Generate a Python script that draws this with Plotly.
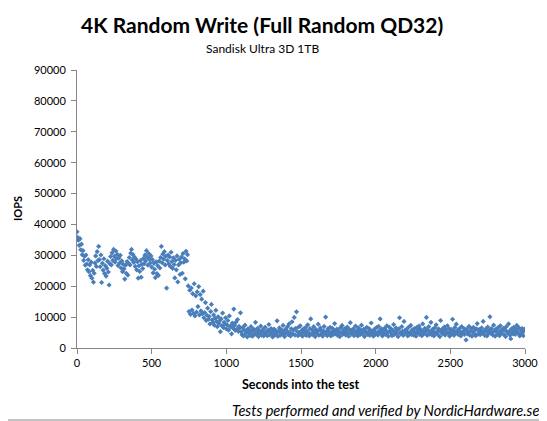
import plotly.graph_objects as go

# sample times in seconds (one reading every 5 s)
seconds = list(range(0, 3000, 5))

# IOPS readings, split by phase of the test
iops_ramp = [
    37600, 35800, 34900, 33200, 35400, 31800,
    33600, 30200, 31500, 28400, 29700, 26800,
    30100, 27200, 25300, 28600, 24700, 26900,
    23400, 27800, 22600, 25100, 21300, 24200,
    27500, 29800, 26400, 31200, 28300, 32900,
]
iops_plateau = [
    28600, 26300, 30100, 21200, 27400, 25200, 28900, 24100, 26600, 23300,
    25800, 28100, 24600, 20400, 27300, 29600, 26900, 30800, 28400, 31900,
    29700, 27800, 31400, 28900, 30300, 26700, 29100, 27500, 30000, 25900,
    28200, 24700, 27100, 25600, 22300, 26800, 24200, 28000, 23600, 27400,
    29300, 26900, 30700, 31900, 28500, 30200, 27700, 29400, 26400, 28800,
    25300, 27900, 22600, 26600, 24800, 28300, 22900, 27100, 25700, 29000,
    27300, 30100, 28200, 31500, 29400, 26800, 30600, 28700, 27500, 29800,
    26200, 28600, 24300, 27400, 25500, 22800, 27900, 24100, 26700, 23500,
    28100, 25900, 29300, 32900, 27600, 30400, 28800, 31200, 26900, 29700,
    19400, 28300, 30100, 27200, 29500, 26400, 31000, 28000, 25800, 29200,
    27000, 22700, 28400, 25300, 29800, 21400, 26900, 28700, 23800, 27600,
    29500, 24200, 30600, 27800, 28900, 22400, 31300, 28200, 30200,
]
iops_drop = [
    20100, 11800, 18700, 10900, 19400, 12300, 17600, 11200, 20800, 10400,
    16900, 11600, 18200, 13400, 19900, 10700, 17300, 12000, 15800, 11100,
    18400, 9800, 11500, 14700, 8900, 10600, 12900, 9300, 10200, 7800,
    11800, 14100, 9100, 8200, 10700, 7400, 9600, 12200, 8600, 6900,
    10100, 7900, 8800, 5300, 9400, 7200, 11300, 6600, 8300, 7700,
    9800, 6200, 7500, 8900, 5800, 10400, 6900, 7100, 4600, 8100,
    6400, 12600, 7300, 5700, 8400, 6100, 9200, 5400, 7000, 6500,
    11400,
]
iops_steady = [
    5200, 4300, 6600, 3900, 5800, 7400, 4700, 5500, 3600, 6200,
    4900, 5700, 4100, 6900, 5300, 3800, 6100, 4500, 5900, 8300,
    4400, 5100, 6400, 3700, 5600, 4800, 7100, 4200, 5400, 6000,
    3900, 5000, 6700, 4600, 5300, 4000, 5800, 7600, 4300, 5100,
    6300, 4700, 3600, 5500, 6100, 4200, 5700, 4900, 8800, 3800,
    5400, 6500, 4100, 5000, 5900, 4400, 7300, 5200, 3700, 6000,
    4800, 5600, 6900, 4300, 7800, 5100, 3900, 6200, 8500, 4600,
    5800, 9900, 4200, 6400, 11700, 5300, 4000, 6800, 5000, 7200,
    4500, 5700, 3800, 6100, 5200, 4700, 6600, 4100, 5500, 7500,
    5000, 3900, 6300, 9400, 4600, 5800, 4300, 6900, 5100, 3700,
    6000, 4800, 5400, 7700, 4200, 5900, 6500, 4400, 5300, 3800,
    5600, 7000, 4700, 10000, 5200, 4000, 6200, 5500, 4500, 6700,
    3900, 5100, 6400, 4300, 5800, 7900, 4600, 5300, 6100, 4100,
    5700, 4900, 3700, 6600, 5000, 7300, 4400, 5900, 5200, 6300,
    4200, 5500, 6800, 4700, 3800, 6000, 8200, 5100, 4500, 5700,
    6200, 4000, 5300, 7100, 4800, 5600, 3900, 6500, 5000, 4300,
    5800, 7400, 4600, 5200, 6100, 3700, 5500, 4900, 6700, 4400,
    5100, 6300, 4100, 5700, 8100, 4700, 5400, 3800, 6000, 5200,
    4500, 6600, 5000, 4200, 7000, 5600, 9400, 4800, 6200, 3900,
    5300, 4600, 6400, 5900, 4300, 7200, 5100, 3800, 6800, 5500,
    4900, 6100, 4000, 5700, 7600, 4400, 5200, 6500, 4700, 5800,
    3700, 6200, 9800, 5000, 4500, 6900, 5400, 4100, 8600, 5600,
    4800, 6000, 5300, 3900, 6700, 4600, 5100, 7300, 4300, 5900,
    5500, 4200, 6300, 5000, 3800, 6600, 4900, 5700, 7100, 4400,
    6100, 5200, 4000, 7800, 5600, 4700, 6400, 5300, 9900, 4100,
    5800, 6900, 4500, 5100, 8300, 4300, 6000, 5400, 3900, 6500,
    4800, 7500, 5200, 4400, 6200, 5700, 3700, 8900, 5000, 6100,
    4600, 5500, 6800, 4200, 5900, 5100, 7200, 4700, 6300, 3800,
    5300, 6000, 4500, 9300, 5600, 4100, 6600, 5000, 7700, 4900,
    5800, 4300, 6200, 5400, 3900, 6900, 4800, 5200, 6400, 4400,
    5700, 2600, 6100, 4600, 5000, 7000, 4200, 5500, 6300, 3800,
    5100, 6700, 4700, 5900, 4000, 6200, 7900, 4500, 5300, 6000,
    4300, 5600, 6500, 4900, 8600, 5200, 4100, 6000, 5400, 3900,
    6800, 4600, 5700, 10100, 4800, 6300, 5000, 4200, 7400, 5500,
    3800, 6100, 5300, 4500, 6600, 5100, 4000, 7200, 5800, 4700,
    5600, 6400, 4300, 5900, 3700, 6900, 5200, 4800, 7800, 5400,
    4100, 3000, 6200, 5000, 4600, 6700, 5500, 4400, 6000, 7300,
    5100, 4700, 6500, 3900, 5800, 4500, 6300, 5200, 4000, 6100,
]
iops = iops_ramp + iops_plateau + iops_drop + iops_steady

x_ticks = [0, 500, 1000, 1500, 2000, 2500, 3000]
y_ticks = [0, 10000, 20000, 30000, 40000, 50000, 60000, 70000, 80000, 90000]

FONT = 'Lato, Carlito, sans-serif'
# the page has an 8px body margin, so the figure is 8px smaller than the window
OFF = 8
W, H = 547 - OFF, 421 - OFF
ML, MR, MT, MB = 77 - OFF, 22, 70 - OFF, 73
pw, ph = W - ML - MR, H - MT - MB


def px(x, y):
    # pixel position in the window -> paper fractions
    return (x - OFF - ML) / pw, (H - MB - (y - OFF)) / ph


fig = go.Figure(go.Scatter(
    x=seconds, y=iops, mode='markers',
    marker=dict(symbol='diamond', size=4, color='#4A7EBB'),
    showlegend=False,
))

axis_common = dict(
    showgrid=False, zeroline=False, showline=True, linecolor='#868686', linewidth=1,
    ticks='outside', ticklen=5, tickcolor='#868686',
    tickfont=dict(family=FONT, size=11, color='#000000'),
)
fig.update_xaxes(range=[0, 3000], tickvals=x_ticks, **axis_common)
fig.update_yaxes(range=[0, 90000], tickvals=y_ticks, tickformat='d', ticklabelstandoff=3, **axis_common)

texts = [
    ('<b>4K Random Write (Full Random QD32)</b>', 262, 25, 21, 0, 'center'),
    ('Sandisk Ultra 3D 1TB', 262, 48, 12, 0, 'center'),
    ('<b>IOPS</b>', 17, 209, 11, -90, 'center'),
    ('<b>Seconds into the test</b>', 300, 384, 12.5, 0, 'center'),
    ('<i>Tests performed and verified by NordicHardware.se</i>', 541, 410, 14.6, 0, 'right'),
]
annotations = []
for text, x, y, size, angle, anchor in texts:
    ax, ay = px(x, y)
    annotations.append(dict(text=text, x=ax, y=ay, xref='paper', yref='paper',
                            xanchor=anchor, yanchor='middle',
                            textangle=angle, showarrow=False,
                            font=dict(family=FONT, size=size, color='#000000')))

x0, y0 = px(0.5, 420)
x1, y1 = px(545.5, 0.5)
fig.update_layout(
    width=W, height=H,
    plot_bgcolor='white', paper_bgcolor='white',
    margin=dict(l=ML, r=MR, t=MT, b=MB, autoexpand=False),
    annotations=annotations,
    shapes=[dict(type='rect', xref='paper', yref='paper', x0=x0, x1=x1, y0=y0, y1=y1,
                 line=dict(color='#868686', width=1))],
)

fig.write_html("out.html")
